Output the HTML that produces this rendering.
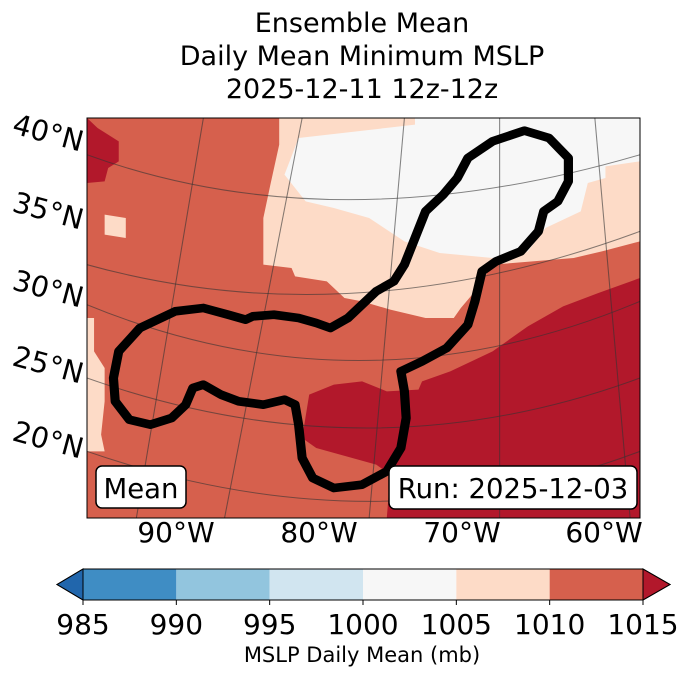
<!DOCTYPE html>
<html><head><meta charset="utf-8"><style>
body{margin:0;background:#fff}
svg text{font-family:"DejaVu Sans","Liberation Sans",sans-serif}
</style></head><body>
<svg width="688" height="674" viewBox="0 0 688 674">
<g font-size="27" text-anchor="middle" fill="#000">
<text x="362" y="32">Ensemble Mean</text>
<text x="362" y="65">Daily Mean Minimum MSLP</text>
<text x="362" y="98">2025-12-11 12z-12z</text>
</g>
<svg x="87" y="118" width="553" height="400" viewBox="0 0 1568 1200" preserveAspectRatio="none">
<rect width="1568" height="1200" fill="#d6604d"/>
<polygon fill="#fddbc7" points="545,0 1568,0 1568,370 1460,400 1380,420 1150,440 1100,520 1060,570 1040,600 960,600 860,575 780,550 730,540 680,490 590,475 580,450 500,440 500,300 520,200 545,80"/>
<polygon fill="#f7f7f7" points="600,60 930,20 930,0 1568,0 1568,130 1470,145 1470,180 1420,195 1400,280 1300,330 1250,400 1150,420 1000,405 900,370 800,300 700,270 620,250 560,170"/>
<polygon fill="#b2182b" points="1568,480 1450,525 1350,565 1250,625 1150,700 1030,760 950,790 940,815 850,820 780,790 700,800 630,830 610,960 650,990 820,1040 860,1070 850,1200 1568,1200"/>
<polygon fill="#b2182b" points="0,0 30,30 90,70 90,130 60,150 50,190 0,195"/>
<polygon fill="#fddbc7" points="0,600 20,600 20,700 50,750 50,850 40,950 50,1000 0,1000"/>
<polygon fill="#fddbc7" points="50,290 110,300 110,360 50,350"/>
<g fill="none" stroke="#333" stroke-opacity="0.6" stroke-width="3">
<path d="M0,110 Q700,380 1568,110"/>
<path d="M0,440 Q750,660 1568,340"/>
<path d="M0,560 Q780,900 1568,550"/>
<path d="M0,780 Q800,1080 1568,780"/>
<path d="M0,1000 Q820,1300 1568,1000"/>
<path d="M330,0 L140,1200"/><path d="M610,0 L390,1200"/><path d="M900,0 L800,1200"/><path d="M1170,0 L1170,1200"/><path d="M1440,0 L1540,1200"/>
</g>
<path fill="none" stroke="#000" stroke-width="26" stroke-linejoin="round" d="M690,630 L740,600 820,520 870,490 900,440 930,360 960,280 1010,230 1050,180 1080,120 1150,70 1240,38 1310,60 1365,120 1365,190 1335,250 1295,280 1280,340 1230,400 1160,430 1120,460 1100,550 1080,620 1020,690 950,730 890,760 900,820 905,900 890,990 850,1060 780,1100 700,1110 640,1080 610,1020 600,920 590,860 560,845 500,860 430,850 380,830 330,800 300,810 280,860 240,900 180,920 120,905 80,850 75,780 90,700 150,630 250,580 330,570 400,590 450,605 470,595 530,590 600,600 650,615 Z"/>
</svg>
<rect x="87" y="118" width="553" height="400" fill="none" stroke="#000" stroke-width="1"/>
<g>
<rect x="96" y="466" width="90" height="42" rx="6" fill="#fff" stroke="#000" stroke-width="1.5"/>
<text x="141" y="498" font-size="27.5" text-anchor="middle">Mean</text></g>
<g>
<rect x="389" y="466" width="248" height="43" rx="6" fill="#fff" stroke="#000" stroke-width="1.5"/>
<text x="513" y="498" font-size="27.5" text-anchor="middle">Run: 2025-12-03</text></g>
<g font-size="28.5">
<text transform="translate(11,133) rotate(15)">40°N</text>
<text transform="translate(11,211) rotate(15)">35°N</text>
<text transform="translate(11,289) rotate(15)">30°N</text>
<text transform="translate(11,365) rotate(15)">25°N</text>
<text transform="translate(11,440) rotate(15)">20°N</text>
</g>
<g font-size="28" text-anchor="middle">
<text x="176" y="542">90°W</text><text x="319" y="542">80°W</text><text x="462" y="542">70°W</text><text x="604" y="542">60°W</text>
</g>
<g id="cbar"></g>
<text x="362" y="662" font-size="21" text-anchor="middle">MSLP Daily Mean (mb)</text>
</svg>
<script>
const levels=[985,990,995,1000,1005,1010,1015];
const colors=['#3f8dc4','#92c5de','#d1e5f0','#f7f7f7','#fddbc7','#d6604d'];
const underColor='#2166ac', overColor='#b2182b';
const g=document.getElementById('cbar');
const NS='http://www.w3.org/2000/svg';
const x0=83,x1=643,y0=569,h=31;
const sx=v=>x0+(v-levels[0])/(levels[levels.length-1]-levels[0])*(x1-x0);
function mk(t,a){const e=document.createElementNS(NS,t);for(const k in a)e.setAttribute(k,a[k]);g.appendChild(e);return e;}
for(let i=0;i<colors.length;i++){
 const r=mk('rect',{x:sx(levels[i]),y:y0,width:sx(levels[i+1])-sx(levels[i]),height:h,fill:colors[i]});
 
 
}
const lt=mk('polygon',{points:`${x0},${y0} ${x0},${y0+h} 57,${y0+h/2}`,fill:underColor,stroke:'#000','stroke-width':1});


const rt=mk('polygon',{points:`${x1},${y0} ${x1},${y0+h} 670,${y0+h/2}`,fill:overColor,stroke:'#000','stroke-width':1});


const fr=mk('polygon',{points:`57,${y0+h/2} ${x0},${y0} ${x1},${y0} 670,${y0+h/2} ${x1},${y0+h} ${x0},${y0+h}`,fill:'none',stroke:'#000','stroke-width':1});


levels.forEach(v=>{
 mk('line',{x1:sx(v),x2:sx(v),y1:y0+h,y2:y0+h+5,stroke:'#000'});
 const t=mk('text',{x:sx(v),y:634,'font-size':28,'text-anchor':'middle'});
 t.textContent=v;
 
 
});
</script>
</body></html>
